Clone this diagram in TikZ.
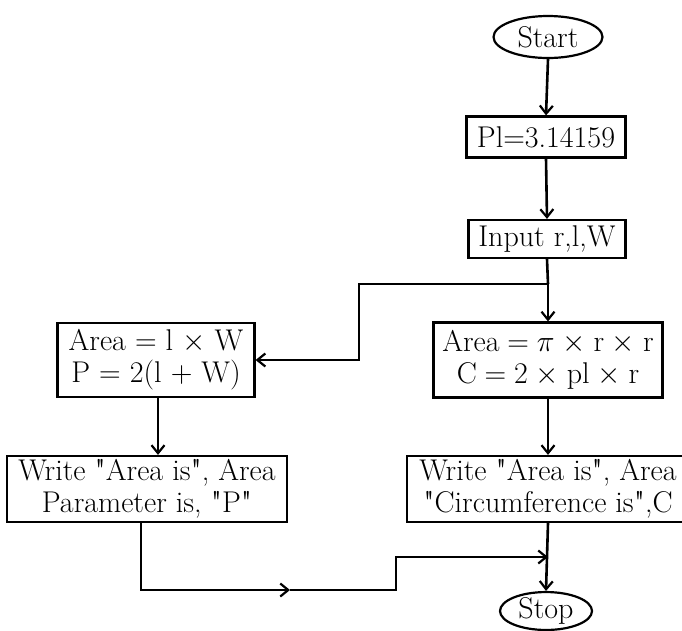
\RequirePackage{fix-cm}
\documentclass[tikz,border=0pt]{standalone}
\usetikzlibrary{shapes.geometric,arrows.meta}
\font\qfont="[lmroman10-regular]" at 30pt
\newcommand{\qq}{{\qfont"}}
\begin{document}
\begin{tikzpicture}[x=1pt,y=-1pt,
  font=\fontsize{30}{32}\selectfont,
  box/.style={draw, line width=2.2pt, rectangle, inner sep=0pt, align=center},
  term/.style={draw, ellipse, line width=2.2pt, inner sep=0pt},
  ln/.style={line width=2.6pt},
  arr/.style={line width=2.6pt, -{Straight Barb[length=8pt,width=13pt,line width=2.2pt]}}]
\useasboundingbox (0,0) rectangle (682,630);
% nodes
\node[term, minimum width=109pt, minimum height=42pt] (start) at (548,37) {Start};
\node[box, minimum width=159pt, minimum height=41pt] (pi) at (546,137) {Pl=3.14159};
\node[box, minimum width=157pt, minimum height=38pt] (input) at (547,239) {Input r,l,W};
\node[box, minimum width=197pt, minimum height=74pt] (rect) at (156,360) {Area = l $\times$ W\\P = 2(l + W)};
\node[box, minimum width=229pt, minimum height=75pt, execute at begin node={\spaceskip=0.26em}] (circ) at (548,360) {Area = $\pi$ $\times$ r $\times$ r\\C = 2 $\times$ pl $\times$ r};
\node[box, minimum width=280pt, minimum height=66pt] (wrect) at (147,489) {Write \qq Area is\qq, Area\\Parameter is, \qq P\qq};
\node[box, minimum width=282pt, minimum height=66pt] (wcirc) at (548,489) {Write \qq Area is\qq, Area\\\qq Circumference is\qq,C};
\node[term, minimum width=92pt, minimum height=36pt] (stop) at (546,611) {Stop};
% helper coordinates
\coordinate (br) at (548,284);
\coordinate (bl) at (359,284);
\coordinate (lb) at (141,590);
\coordinate (mid) at (290,590);
\coordinate (jog) at (396,590);
\coordinate (jt) at (396,557);
\coordinate (jn) at (548,557);
% connectors
\draw[arr] (start.south) -- (pi.north);
\draw[arr] (pi.south) -- (input.north);
\draw[ln] (input.south) -- (br);
\draw[arr] (br) -- (circ.north);
\draw[arr] (br) -- (bl) |- (rect.east);
\draw[arr] (rect.south -| 158,0) -- (wrect.north -| 158,0);
\draw[arr] (circ.south) -- (wcirc.north);
\draw[arr] (wcirc.south) -- (stop.north);
\draw[arr] (wrect.south -| lb) |- (mid);
\draw[ln] (mid) -- (jog) -- (jt) -- ([xshift=-1pt]jn);
\draw[arr] (jt) -- (jn);
\end{tikzpicture}
\end{document}
